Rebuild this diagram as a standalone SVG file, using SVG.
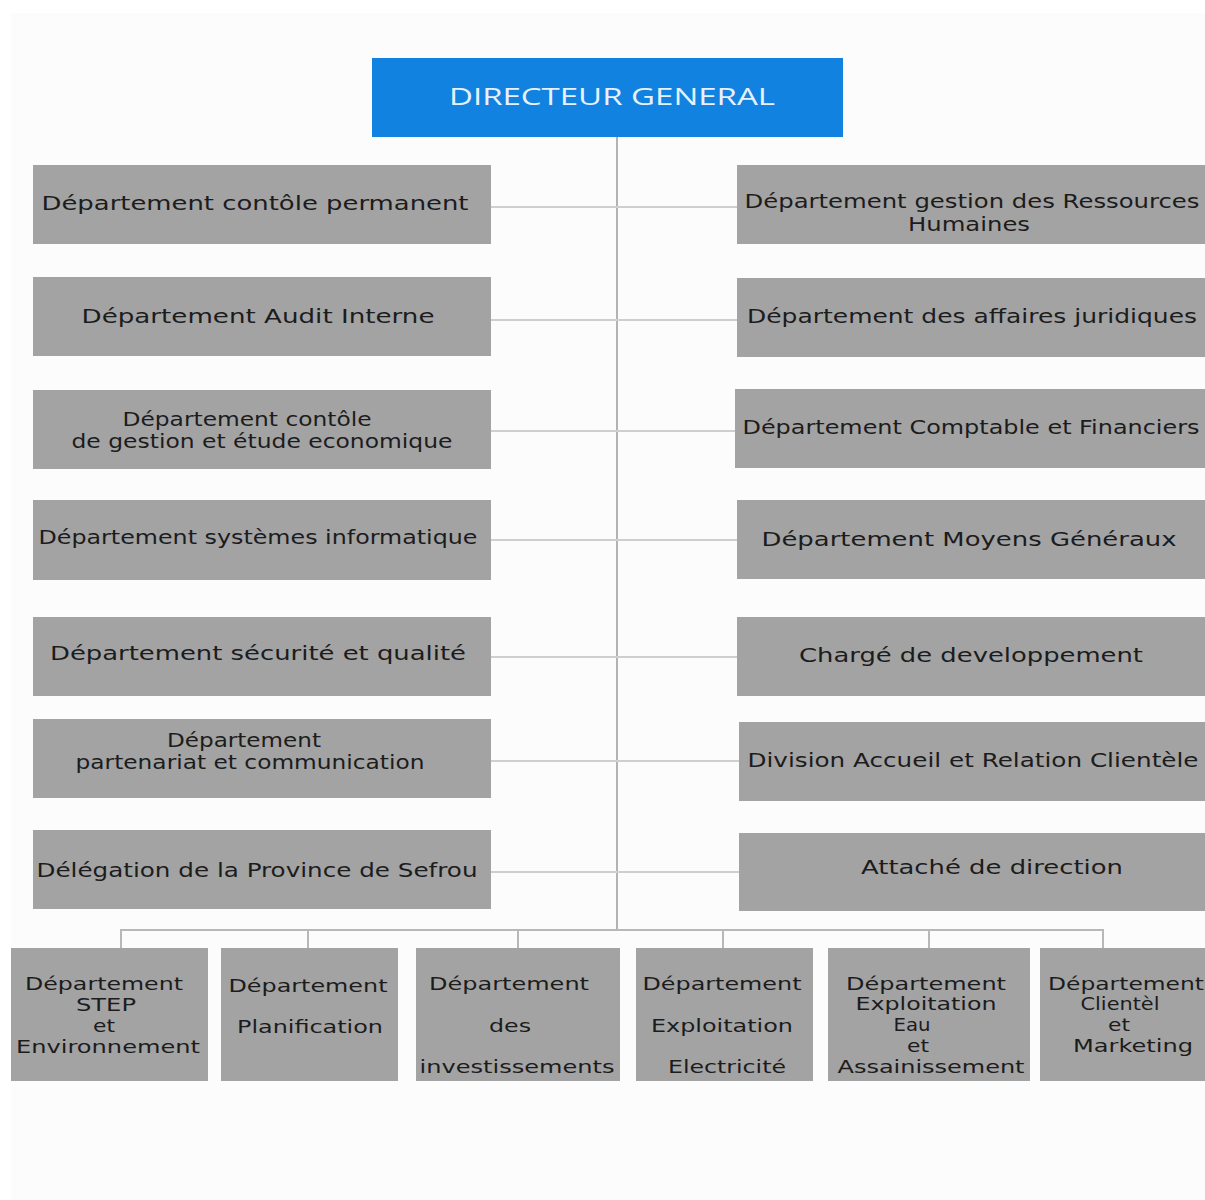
<svg xmlns="http://www.w3.org/2000/svg" width="1205" height="1200" viewBox="0 0 1205 1200">
<style>
.bg{fill:#fcfcfc}
.box{fill:#a3a3a4}
.top{fill:#1282e0}
.t{font-family:"DejaVu Sans",Verdana,sans-serif;font-size:19px;fill:#1c1c1c;text-anchor:middle}
.s{font-family:"DejaVu Sans",Verdana,sans-serif;font-size:18px;fill:#1c1c1c;text-anchor:middle}
.title{font-family:"Open Sans","Liberation Sans",sans-serif;font-size:24px;fill:#e6f1fb;text-anchor:middle}
.trunk{stroke:#b3b3b3;stroke-width:2;fill:none}
.br{stroke:#cfcfcf;stroke-width:2;fill:none}
.bus{stroke:#b8b8b8;stroke-width:2;fill:none}
</style>
<rect x="0" y="0" width="1205" height="1200" fill="#ffffff"/>
<rect class="bg" x="11" y="13" width="1194" height="1187"/>
<g id="connectors">
<line class="trunk" x1="617" y1="137" x2="617" y2="930"/>
<line class="br" x1="491" y1="207" x2="737" y2="207"/>
<line class="br" x1="491" y1="320" x2="737" y2="320"/>
<line class="br" x1="491" y1="431" x2="735" y2="431"/>
<line class="br" x1="491" y1="540" x2="737" y2="540"/>
<line class="br" x1="491" y1="657" x2="737" y2="657"/>
<line class="br" x1="491" y1="761" x2="739" y2="761"/>
<line class="br" x1="491" y1="872" x2="739" y2="872"/>
<polyline class="bus" points="121,948 121,930 1103,930 1103,948"/>
<line class="bus" x1="308" y1="930" x2="308" y2="948"/>
<line class="bus" x1="518" y1="930" x2="518" y2="948"/>
<line class="bus" x1="723" y1="930" x2="723" y2="948"/>
<line class="bus" x1="929" y1="930" x2="929" y2="948"/>
</g>
<g id="directeur">
<rect class="top" x="372" y="58" width="471" height="79"/>
<text class="title" x="612" y="105" textLength="326" lengthAdjust="spacingAndGlyphs">DIRECTEUR GENERAL</text>
</g>
<g id="l1"><rect class="box" x="33" y="165" width="458" height="79"/>
<text class="t" x="255" y="210" textLength="427" lengthAdjust="spacingAndGlyphs">Département contôle permanent</text></g>
<g id="l2"><rect class="box" x="33" y="277" width="458" height="79"/>
<text class="t" x="258" y="323" textLength="353" lengthAdjust="spacingAndGlyphs">Département Audit Interne</text></g>
<g id="l3"><rect class="box" x="33" y="390" width="458" height="79"/>
<text class="t" x="247" y="426" textLength="249" lengthAdjust="spacingAndGlyphs">Département contôle</text>
<text class="t" x="262" y="448" textLength="381" lengthAdjust="spacingAndGlyphs">de gestion et étude economique</text></g>
<g id="l4"><rect class="box" x="33" y="500" width="458" height="80"/>
<text class="t" x="258" y="544" textLength="439" lengthAdjust="spacingAndGlyphs">Département systèmes informatique</text></g>
<g id="l5"><rect class="box" x="33" y="617" width="458" height="79"/>
<text class="t" x="258" y="660" textLength="416" lengthAdjust="spacingAndGlyphs">Département sécurité et qualité</text></g>
<g id="l6"><rect class="box" x="33" y="719" width="458" height="79"/>
<text class="t" x="244" y="747" textLength="154" lengthAdjust="spacingAndGlyphs">Département</text>
<text class="t" x="250" y="769" textLength="349" lengthAdjust="spacingAndGlyphs">partenariat et communication</text></g>
<g id="l7"><rect class="box" x="33" y="830" width="458" height="79"/>
<text class="t" x="257" y="877" textLength="441" lengthAdjust="spacingAndGlyphs">Délégation de la Province de Sefrou</text></g>
<g id="r1"><rect class="box" x="737" y="165" width="468" height="79"/>
<text class="t" x="972" y="208" textLength="455" lengthAdjust="spacingAndGlyphs">Département gestion des Ressources</text>
<text class="t" x="969" y="231" textLength="122" lengthAdjust="spacingAndGlyphs">Humaines</text></g>
<g id="r2"><rect class="box" x="737" y="278" width="468" height="79"/>
<text class="t" x="972" y="323" textLength="450" lengthAdjust="spacingAndGlyphs">Département des affaires juridiques</text></g>
<g id="r3"><rect class="box" x="735" y="389" width="470" height="79"/>
<text class="t" x="971" y="434" textLength="457" lengthAdjust="spacingAndGlyphs">Département Comptable et Financiers</text></g>
<g id="r4"><rect class="box" x="737" y="500" width="468" height="79"/>
<text class="t" x="969" y="546" textLength="415" lengthAdjust="spacingAndGlyphs">Département Moyens Généraux</text></g>
<g id="r5"><rect class="box" x="737" y="617" width="468" height="79"/>
<text class="t" x="971" y="662" textLength="344" lengthAdjust="spacingAndGlyphs">Chargé de developpement</text></g>
<g id="r6"><rect class="box" x="739" y="722" width="466" height="79"/>
<text class="t" x="973" y="767" textLength="451" lengthAdjust="spacingAndGlyphs">Division Accueil et Relation Clientèle</text></g>
<g id="r7"><rect class="box" x="739" y="833" width="466" height="78"/>
<text class="t" x="992" y="874" textLength="262" lengthAdjust="spacingAndGlyphs">Attaché de direction</text></g>
<g id="b1"><rect class="box" x="11" y="948" width="197" height="133"/>
<text class="s" x="104" y="990" textLength="158" lengthAdjust="spacingAndGlyphs">Département</text>
<text class="s" x="106" y="1011" textLength="60" lengthAdjust="spacingAndGlyphs">STEP</text>
<text class="s" x="104" y="1032" textLength="22" lengthAdjust="spacingAndGlyphs">et</text>
<text class="s" x="108" y="1053" textLength="184" lengthAdjust="spacingAndGlyphs">Environnement</text></g>
<g id="b2"><rect class="box" x="221" y="948" width="177" height="133"/>
<text class="s" x="308" y="992" textLength="159" lengthAdjust="spacingAndGlyphs">Département</text>
<text class="s" x="310" y="1033" textLength="146" lengthAdjust="spacingAndGlyphs">Planification</text></g>
<g id="b3"><rect class="box" x="416" y="948" width="204" height="133"/>
<text class="s" x="509" y="990" textLength="160" lengthAdjust="spacingAndGlyphs">Département</text>
<text class="s" x="510" y="1032" textLength="42" lengthAdjust="spacingAndGlyphs">des</text>
<text class="s" x="517" y="1073" textLength="195" lengthAdjust="spacingAndGlyphs">investissements</text></g>
<g id="b4"><rect class="box" x="636" y="948" width="177" height="133"/>
<text class="s" x="722" y="990" textLength="159" lengthAdjust="spacingAndGlyphs">Département</text>
<text class="s" x="722" y="1032" textLength="142" lengthAdjust="spacingAndGlyphs">Exploitation</text>
<text class="s" x="727" y="1073" textLength="118" lengthAdjust="spacingAndGlyphs">Electricité</text></g>
<g id="b5"><rect class="box" x="828" y="948" width="202" height="133"/>
<text class="s" x="926" y="990" textLength="160" lengthAdjust="spacingAndGlyphs">Département</text>
<text class="s" x="926" y="1010" textLength="141" lengthAdjust="spacingAndGlyphs">Exploitation</text>
<text class="s" x="912" y="1031" textLength="37" lengthAdjust="spacingAndGlyphs">Eau</text>
<text class="s" x="918" y="1052" textLength="22" lengthAdjust="spacingAndGlyphs">et</text>
<text class="s" x="931" y="1073" textLength="187" lengthAdjust="spacingAndGlyphs">Assainissement</text></g>
<g id="b6"><rect class="box" x="1040" y="948" width="165" height="133"/>
<text class="s" x="1126" y="990" textLength="156" lengthAdjust="spacingAndGlyphs">Département</text>
<text class="s" x="1120" y="1010" textLength="79" lengthAdjust="spacingAndGlyphs">Clientèl</text>
<text class="s" x="1119" y="1031" textLength="22" lengthAdjust="spacingAndGlyphs">et</text>
<text class="s" x="1133" y="1052" textLength="120" lengthAdjust="spacingAndGlyphs">Marketing</text></g>
</svg>
